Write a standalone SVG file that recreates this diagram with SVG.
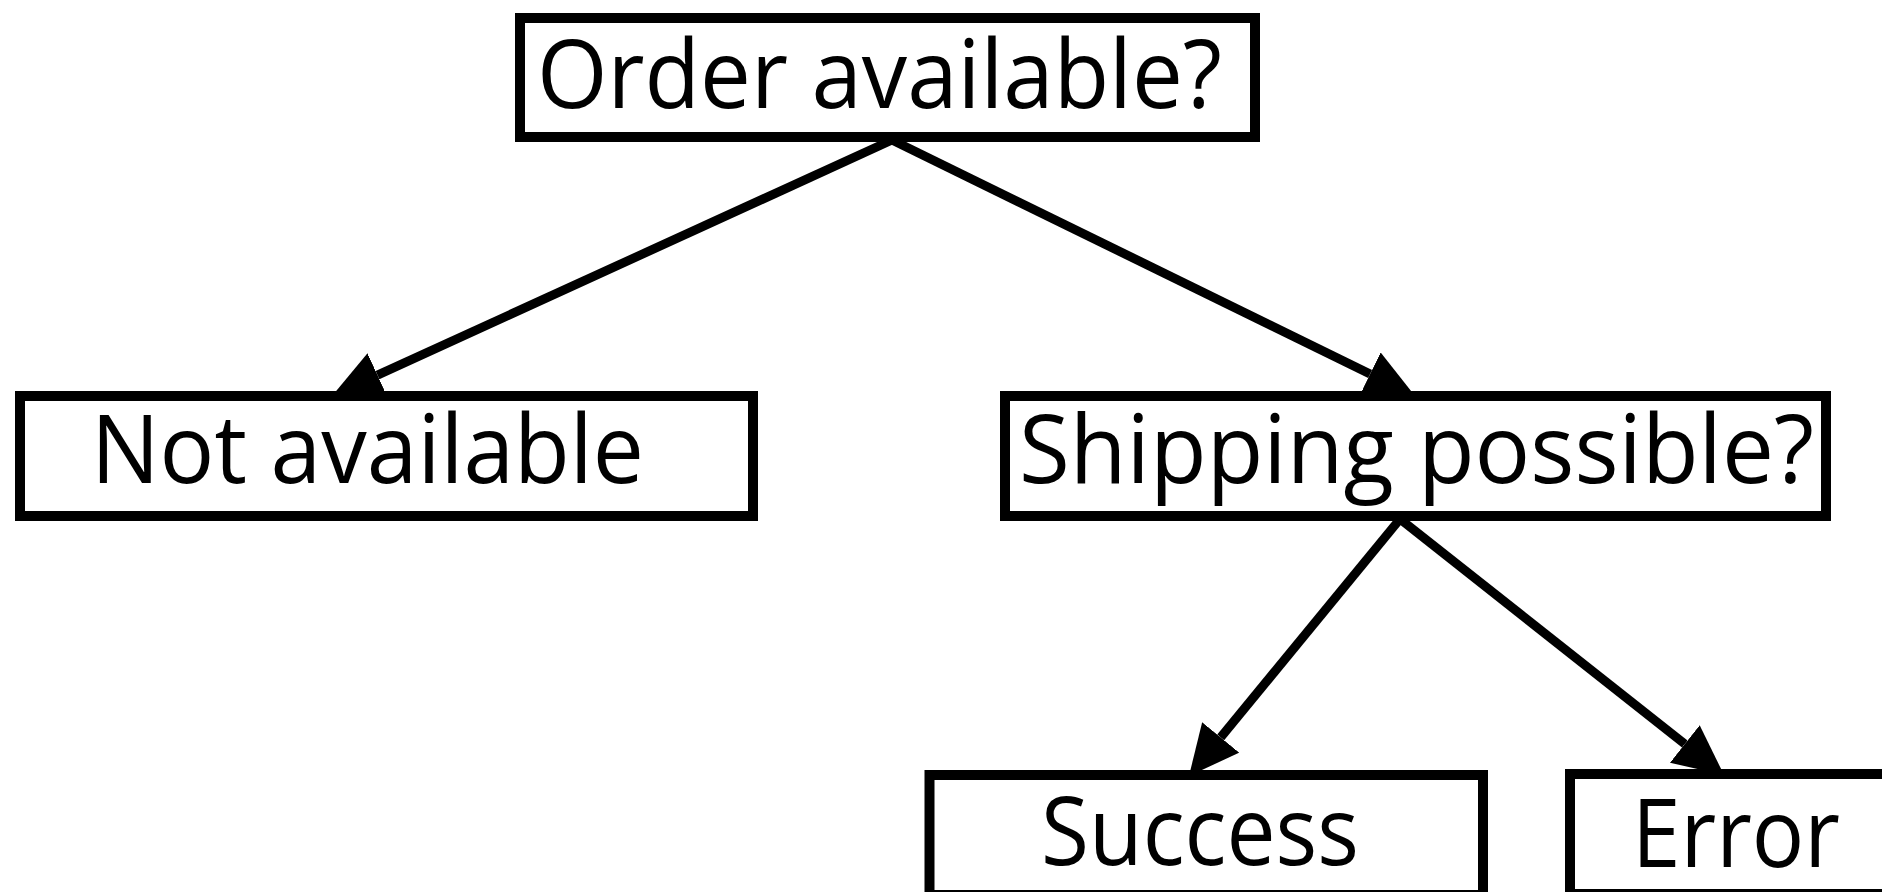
<svg xmlns="http://www.w3.org/2000/svg" width="1882" height="892" viewBox="0 0 1882 892">
  <style>
    .box { fill: #ffffff; stroke: #000000; stroke-width: 10; }
    .lbl { font-family: "Open Sans", "Noto Sans", "Liberation Sans", sans-serif; font-size: 96px; fill: #000000; }
    .edge { stroke: #000000; stroke-width: 9; fill: none; marker-end: url(#arrow); }
  </style>
  <defs>
    <marker id="arrow" viewBox="0 0 50 48" refX="0" refY="24" markerWidth="50" markerHeight="48" markerUnits="userSpaceOnUse" orient="auto">
      <path d="M0,0 L50,24 L0,48 Z" fill="#000000"/>
    </marker>
  </defs>
  <rect x="0" y="0" width="1882" height="892" fill="#ffffff"/>
  <g id="connectors">
    <line class="edge" x1="892" y1="140" x2="377.5" y2="375.2"/>
    <line class="edge" x1="892" y1="140" x2="1370.1" y2="374.0"/>
    <line class="edge" x1="1400" y1="519" x2="1220.7" y2="737.4"/>
    <line class="edge" x1="1400" y1="519" x2="1684.8" y2="744.0"/>
  </g>
  <g id="node-order">
    <rect class="box" x="520" y="18" width="735" height="119"/>
    <text class="lbl" x="537" y="108" textLength="685" lengthAdjust="spacingAndGlyphs">Order available?</text>
  </g>
  <g id="node-not-available">
    <rect class="box" x="20" y="396" width="733" height="120"/>
    <text class="lbl" x="91" y="483" textLength="553" lengthAdjust="spacingAndGlyphs">Not available</text>
  </g>
  <g id="node-shipping">
    <rect class="box" x="1005" y="396" width="821" height="120"/>
    <text class="lbl" x="1019" y="483" textLength="795" lengthAdjust="spacingAndGlyphs">Shipping possible?</text>
  </g>
  <g id="node-success">
    <rect class="box" x="929.5" y="775" width="553.5" height="120"/>
    <text class="lbl" x="1041" y="865" textLength="318" lengthAdjust="spacingAndGlyphs">Success</text>
  </g>
  <g id="node-error">
    <rect class="box" x="1570" y="774" width="400" height="120"/>
    <text class="lbl" x="1632" y="867" textLength="208" lengthAdjust="spacingAndGlyphs">Error</text>
  </g>
</svg>
